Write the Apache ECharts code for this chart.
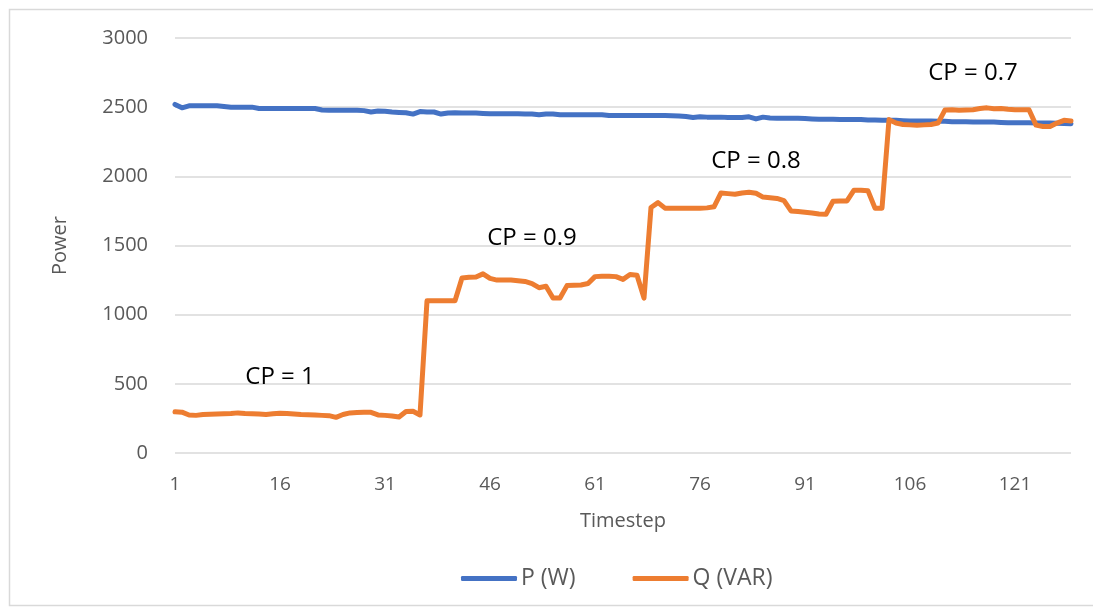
<!DOCTYPE html>
<html>
<head>
<meta charset="utf-8">
<script src="https://cdn.jsdelivr.net/npm/echarts@6/dist/echarts.min.js"></script>
<style>
  html, body { margin: 0; padding: 0; background: #ffffff; }
  #chart { width: 1093px; height: 609px; }
</style>
</head>
<body>
<div id="chart"></div>
<script>
// Timesteps 1..129
const timesteps = Array.from({ length: 129 }, (_, i) => String(i + 1));

// Active power P (W)
const pValues = [
  2520, 2495, 2510, 2510, 2510, 2510, 2510, 2505, 2500, 2500,
  2500, 2500, 2490, 2490, 2490, 2490, 2490, 2490, 2490, 2490,
  2490, 2480, 2478, 2478, 2478, 2478, 2478, 2475, 2465, 2472,
  2470, 2465, 2462, 2460, 2450, 2468, 2465, 2465, 2450, 2458,
  2460, 2458, 2458, 2458, 2455, 2452, 2452, 2452, 2452, 2452,
  2450, 2450, 2445, 2450, 2450, 2445, 2445, 2445, 2445, 2445,
  2445, 2445, 2440, 2440, 2440, 2440, 2440, 2440, 2440, 2440,
  2440, 2438, 2436, 2432, 2425, 2430, 2428, 2428, 2428, 2425,
  2425, 2425, 2430, 2415, 2428, 2422, 2420, 2420, 2420, 2420,
  2418, 2415, 2412, 2412, 2412, 2410, 2410, 2410, 2410, 2408,
  2408, 2405, 2405, 2405, 2402, 2400, 2400, 2400, 2400, 2398,
  2398, 2395, 2395, 2395, 2393, 2392, 2392, 2392, 2390, 2388,
  2388, 2388, 2388, 2386, 2385, 2385, 2383, 2382, 2380
];

// Reactive power Q (VAR)
const qValues = [
  298, 295, 275, 272, 278, 280, 282, 283, 285, 290,
  286, 284, 282, 278, 283, 288, 286, 282, 278, 276,
  275, 272, 270, 258, 278, 290, 292, 295, 294, 275,
  272, 268, 260, 300, 302, 275, 1100, 1100, 1100, 1100,
  1100, 1265, 1270, 1272, 1295, 1262, 1250, 1250, 1250, 1245,
  1240, 1225, 1195, 1205, 1120, 1120, 1210, 1212, 1215, 1225,
  1275, 1278, 1278, 1275, 1255, 1290, 1285, 1120, 1775, 1810,
  1770, 1770, 1770, 1770, 1770, 1770, 1772, 1780, 1880, 1875,
  1870, 1880, 1885, 1878, 1850, 1845, 1840, 1825, 1750, 1745,
  1740, 1735, 1728, 1726, 1820, 1822, 1822, 1900, 1900, 1895,
  1770, 1770, 2410, 2385, 2375, 2372, 2370, 2372, 2375, 2385,
  2480, 2482, 2478, 2480, 2482, 2490, 2495, 2488, 2490, 2485,
  2482, 2482, 2482, 2370, 2360, 2360, 2385, 2405, 2400
];

// Power-factor annotations: [text, timestep, value]
const cpNotes = [
  ['CP = 1', '16', 550],
  ['CP = 0.9', '52', 1555],
  ['CP = 0.8', '84', 2110],
  ['CP = 0.7', '115', 2745]
];

const yTicks = { min: 0, max: 3000, interval: 500 };

const FONT = 'Open Sans';
const AXIS_TEXT = '#595959';
const GRID_LINE = '#d9d9d9';

const chart = echarts.init(document.getElementById('chart'), null, { renderer: 'canvas' });

chart.setOption({
  backgroundColor: '#ffffff',
  animation: false,
  textStyle: { fontFamily: FONT },
  graphic: [{
    type: 'rect',
    left: 7, top: 7,
    shape: { width: 1100, height: 596 },
    style: { fill: 'none', stroke: '#d9d9d9', lineWidth: 1.5 },
    silent: true
  }],
  grid: { left: 175, right: 22, top: 38, bottom: 156 },
  legend: {
    bottom: 14,
    left: 456,
    itemWidth: 56,
    itemHeight: 5,
    itemGap: 57,
    icon: 'roundRect',
    textStyle: { color: AXIS_TEXT, fontSize: 23, fontFamily: FONT, padding: [0, 0, 0, -1] },
    data: ['P (W)', 'Q (VAR)']
  },
  xAxis: {
    type: 'category',
    data: timesteps,
    boundaryGap: false,
    name: 'Timestep',
    nameLocation: 'middle',
    nameGap: 58,
    nameTextStyle: { color: AXIS_TEXT, fontSize: 20, fontFamily: FONT },
    axisLine: { show: false },
    axisTick: { show: false },
    axisLabel: { interval: 14, color: AXIS_TEXT, fontSize: 19, margin: 22, fontFamily: FONT },
    splitLine: { show: false }
  },
  yAxis: {
    type: 'value',
    min: yTicks.min,
    max: yTicks.max,
    interval: yTicks.interval,
    name: 'Power',
    nameLocation: 'middle',
    nameGap: 105,
    nameRotate: 90,
    nameTextStyle: { color: AXIS_TEXT, fontSize: 20, fontFamily: FONT },
    axisLine: { show: false },
    axisTick: { show: false },
    axisLabel: {
      color: AXIS_TEXT, fontSize: 20, margin: 27, fontFamily: FONT,
      formatter: (v) => String(v)
    },
    splitLine: { show: true, lineStyle: { color: GRID_LINE, width: 1.5 } }
  },
  series: [
    {
      name: 'P (W)',
      type: 'line',
      data: pValues,
      showSymbol: false,
      symbol: 'none',
      smooth: false,
      itemStyle: { color: '#4472C4' },
      lineStyle: { color: '#4472C4', width: 5, cap: 'round', join: 'round' },
      z: 2
    },
    {
      name: 'Q (VAR)',
      type: 'line',
      data: qValues,
      showSymbol: false,
      symbol: 'none',
      smooth: false,
      itemStyle: { color: '#ED7D31' },
      lineStyle: { color: '#ED7D31', width: 5, cap: 'round', join: 'round' },
      z: 3,
      markPoint: {
        symbol: 'circle',
        symbolSize: 0,
        silent: true,
        label: {
          show: true,
          position: 'inside',
          color: '#000000',
          fontSize: 24,
          fontFamily: FONT,
          formatter: (p) => p.name
        },
        data: cpNotes.map(([text, t, v]) => ({ name: text, coord: [t, v] }))
      }
    }
  ]
});
</script>
</body>
</html>
